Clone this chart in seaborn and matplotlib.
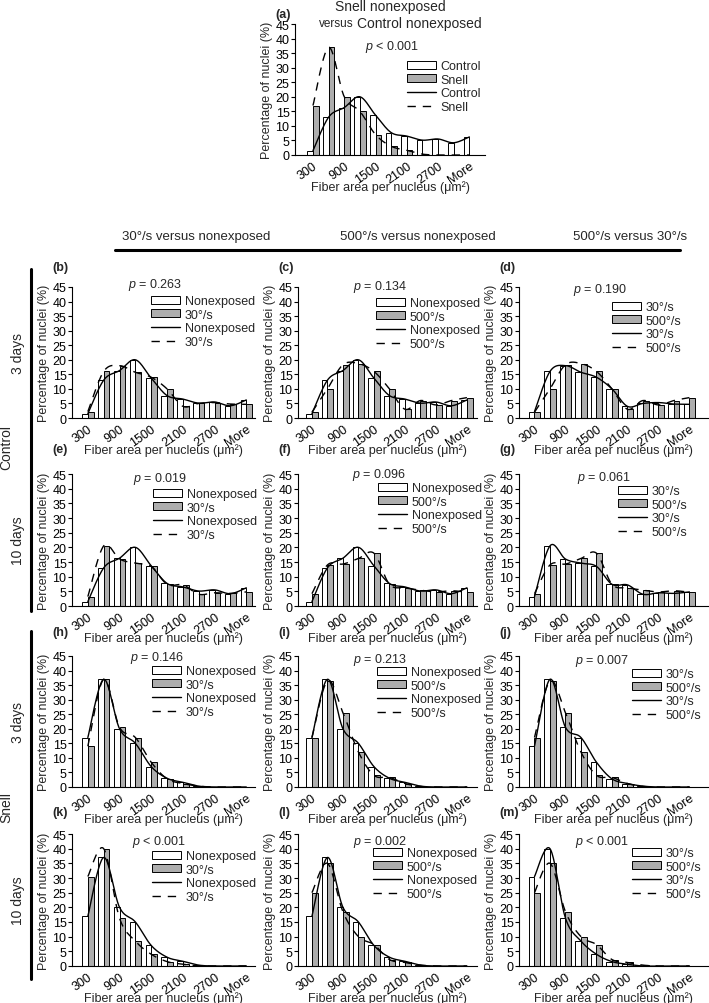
import numpy as np
import pandas as pd
import matplotlib
matplotlib.use("Agg")
import matplotlib.pyplot as plt
import seaborn as sns
from matplotlib.patches import Patch
from matplotlib.lines import Line2D

# ---------------- data ----------------
bins = ['300', '600', '900', '1200', '1500', '1800', '2100', '2400', '2700', '3000', 'More']
tick_labels = ['300', '900', '1500', '2100', '2700', 'More']

ctrl_nonexp = [1.5, 13.0, 16.3, 20.0, 13.7, 7.7, 6.5, 5.1, 5.5, 4.2, 6.2]
snell_nonexp = [17.0, 37.0, 20.0, 15.0, 7.0, 3.0, 1.6, 0.3, 0, 0, 0]
ctrl3_30 = [2.2, 16.0, 18.0, 15.7, 14.0, 10.0, 4.0, 5.0, 5.3, 4.8, 4.7]
ctrl3_500 = [2.0, 10.0, 18.3, 18.7, 16.0, 10.0, 3.0, 6.0, 4.5, 6.0, 7.0]
ctrl10_30 = [3.2, 20.5, 16.0, 14.6, 13.5, 7.4, 7.2, 4.0, 4.5, 4.3, 4.8]
ctrl10_500 = [4.2, 14.0, 14.3, 16.2, 18.0, 7.4, 6.2, 5.4, 4.8, 5.2, 4.7]
snell3_30 = [14.0, 37.0, 20.5, 17.0, 8.5, 2.8, 1.2, 0.3, 0, 0, 0]
snell3_500 = [17.0, 36.5, 25.5, 12.0, 4.0, 3.3, 1.2, 0.2, 0, 0, 0]
snell10_30 = [30.5, 40.0, 16.3, 8.5, 4.0, 1.5, 0.6, 0, 0, 0, 0]
snell10_500 = [25.0, 35.0, 18.5, 10.0, 7.3, 2.2, 1.2, 0.3, 0, 0, 0]

p_values = {'a': '< 0.001', 'b': '= 0.263', 'c': '= 0.134', 'd': '= 0.190',
            'e': '= 0.019', 'f': '= 0.096', 'g': '= 0.061',
            'h': '= 0.146', 'i': '= 0.213', 'j': '= 0.007',
            'k': '< 0.001', 'l': '= 0.002', 'm': '< 0.001'}

col_headers = ['30°/s versus nonexposed', '500°/s versus nonexposed', '500°/s versus 30°/s']
row_labels = ['3 days', '10 days', '3 days', '10 days']
group_labels = ['Control', 'Snell']

# ---------------- style ----------------
sns.set_theme(style='ticks')
plt.rcParams['font.family'] = ['Liberation Sans', 'DejaVu Sans']
plt.rcParams['mathtext.fontset'] = 'custom'
plt.rcParams['mathtext.rm'] = 'Liberation Sans'
plt.rcParams['mathtext.it'] = 'Liberation Sans:italic'
plt.rcParams['axes.linewidth'] = 0.8

W, H = 709, 1004
fig = plt.figure(figsize=(W / 100, H / 100), dpi=100)
GRAY = '#adadad'
FS = 9
DASH = (0, (6, 5))


def fx(x):
    return x / W


def fy(y):
    return 1 - y / H


def smooth(vals, n=24):
    y = np.asarray(vals, float)
    x = np.arange(len(y), dtype=float)
    P = np.column_stack([x, y])
    Pp = np.vstack([P[0], P, P[-1]])
    out = []
    for i in range(len(P) - 1):
        p0, p1, p2, p3 = Pp[i], Pp[i + 1], Pp[i + 2], Pp[i + 3]
        c1 = p1 + (p2 - p0) / 6
        c2 = p2 - (p3 - p1) / 6
        t = np.linspace(0, 1, n)[:, None]
        seg = (1 - t) ** 3 * p1 + 3 * (1 - t) ** 2 * t * c1 + 3 * (1 - t) * t ** 2 * c2 + t ** 3 * p2
        out.append(seg if i == 0 else seg[1:])
    arr = np.vstack(out)
    return arr[:, 0], arr[:, 1]


def panel(letter, rect, xlim, white, gray, names, leg_dx, leg_dy, p_dx, p_dy, let_dy):
    left, top, right, bottom = rect
    w, h = right - left, bottom - top
    ax = fig.add_axes([fx(left), fy(bottom), w / W, h / H])
    df = pd.DataFrame({'bin': bins * 2,
                       'pct': list(white) + list(gray),
                       'group': [names[0]] * len(bins) + [names[1]] * len(bins)})
    sns.barplot(data=df, x='bin', y='pct', hue='group', order=bins, hue_order=names,
                palette=['white', GRAY], saturation=1, edgecolor='black', linewidth=0.7,
                width=0.72, errorbar=None, legend=False, ax=ax)
    xs, ys = smooth(white)
    ax.plot(xs, ys, color='black', lw=1.0)
    xs, ys = smooth(gray)
    ax.plot(xs, ys, color='black', lw=1.0, ls=DASH)
    ax.set_xlim(*xlim)
    ax.set_ylim(0, 45)
    ax.set_yticks(range(0, 46, 5))
    ax.set_xticks(range(0, 11, 2))
    ax.set_xticklabels(tick_labels, rotation=35, ha='right', rotation_mode='anchor')
    ax.tick_params(axis='y', length=3, width=0.8, pad=1, labelsize=FS, colors='black')
    ax.tick_params(axis='x', length=0, pad=3, labelsize=FS, colors='black')
    for s in ['top', 'right']:
        ax.spines[s].set_visible(False)
    for s in ['left', 'bottom']:
        ax.spines[s].set_color('black')
    ax.set_xlabel('Fiber area per nucleus (μm²)', fontsize=FS)
    ax.xaxis.set_label_coords(0.5, -25 / h)
    ax.set_ylabel('Percentage of nuclei (%)', fontsize=FS)
    ax.yaxis.set_label_coords(-22 / w, 0.5)
    handles = [Patch(facecolor='white', edgecolor='black', lw=0.7),
               Patch(facecolor=GRAY, edgecolor='black', lw=0.7),
               Line2D([], [], color='black', lw=1.0),
               Line2D([], [], color='black', lw=1.0, ls=DASH)]
    labels = [names[0], names[1], names[0], names[1]]
    ax.legend(handles, labels, loc='upper left',
              bbox_to_anchor=(fx(left + leg_dx), fy(top + leg_dy - 7)),
              bbox_transform=fig.transFigure, frameon=False, fontsize=FS,
              borderpad=0, borderaxespad=0, labelspacing=0.13,
              handlelength=2.3, handleheight=0.6, handletextpad=0.4)
    fig.text(fx(left + p_dx), fy(top + p_dy), '$p$ ' + p_values[letter],
             fontsize=FS, ha='left', va='center')
    fig.text(fx(left - 20), fy(top + let_dy), '(' + letter + ')', fontsize=FS,
             fontweight='bold', ha='left', va='center')
    return ax


# panel (a)
panel('a', (295, 25, 485, 156), (-1.15, 11.0), ctrl_nonexp, snell_nonexp,
      ['Control', 'Snell'], 112, 68 - 25, 70, 22, -10)
fig.text(fx(390), fy(7), 'Snell nonexposed', fontsize=10, ha='center', va='center')
fig.text(fx(354), fy(24), 'versus', fontsize=8.5, ha='right', va='center')
fig.text(fx(357), fy(24), 'Control nonexposed', fontsize=10, ha='left', va='center')

col_left = [72, 298, 519]
col_right = [255, 477, 708]
col_xlim = [(-1.0, 10.55), (-0.9, 10.65), (-1.0, 11.2)]
row_top = [288, 475, 657, 835]
row_bot = [419, 607, 788, 967]
let_dy = [-20, -25, -24, -22]

grid = [
    [('b', ctrl_nonexp, ctrl3_30, ['Nonexposed', '30°/s']),
     ('c', ctrl_nonexp, ctrl3_500, ['Nonexposed', '500°/s']),
     ('d', ctrl3_30, ctrl3_500, ['30°/s', '500°/s'])],
    [('e', ctrl_nonexp, ctrl10_30, ['Nonexposed', '30°/s']),
     ('f', ctrl_nonexp, ctrl10_500, ['Nonexposed', '500°/s']),
     ('g', ctrl10_30, ctrl10_500, ['30°/s', '500°/s'])],
    [('h', snell_nonexp, snell3_30, ['Nonexposed', '30°/s']),
     ('i', snell_nonexp, snell3_500, ['Nonexposed', '500°/s']),
     ('j', snell3_30, snell3_500, ['30°/s', '500°/s'])],
    [('k', snell_nonexp, snell10_30, ['Nonexposed', '30°/s']),
     ('l', snell_nonexp, snell10_500, ['Nonexposed', '500°/s']),
     ('m', snell10_30, snell10_500, ['30°/s', '500°/s'])],
]
leg_dx = [[79, 78, 93], [81, 80, 99], [80, 79, 113], [80, 75, 113]]
leg_dy = [[15, 17, 21], [21, 15, 18], [16, 17, 19], [23, 20, 20]]
p_dx = [[56, 55, 54], [61, 54, 58], [58, 55, 56], [60, 55, 56]]
p_dy = [[-3, -1, 2], [4, 0, 3], [1, 3, 4], [7, 7, 7]]

for r in range(4):
    for c in range(3):
        letter, wd, gd, names = grid[r][c]
        panel(letter, (col_left[c], row_top[r], col_right[c], row_bot[r]), col_xlim[c],
              wd, gd, names, leg_dx[r][c], leg_dy[r][c], p_dx[r][c], p_dy[r][c], let_dy[r])

# column headers and bar
for txt, cx in zip(col_headers, [196, 418, 630]):
    fig.text(fx(cx), fy(237), txt, fontsize=9.5, ha='center', va='center')
fig.add_artist(Line2D([fx(115), fx(680)], [fy(251), fy(251)], color='black', lw=2.2,
                      transform=fig.transFigure))

# row labels
for lab, r in zip(row_labels, range(4)):
    fig.text(fx(18), fy((row_top[r] + row_bot[r]) / 2), lab, fontsize=10,
             rotation=90, ha='center', va='center')
fig.text(fx(6), fy(447), group_labels[0], fontsize=10, rotation=90, ha='center', va='center')
fig.text(fx(6), fy(808), group_labels[1], fontsize=10, rotation=90, ha='center', va='center')
fig.add_artist(Line2D([fx(31), fx(31)], [fy(270), fy(612)], color='black', lw=2.2,
                      transform=fig.transFigure))
fig.add_artist(Line2D([fx(31), fx(31)], [fy(632), fy(980)], color='black', lw=2.2,
                      transform=fig.transFigure))

fig.savefig('out.png', dpi=100)
